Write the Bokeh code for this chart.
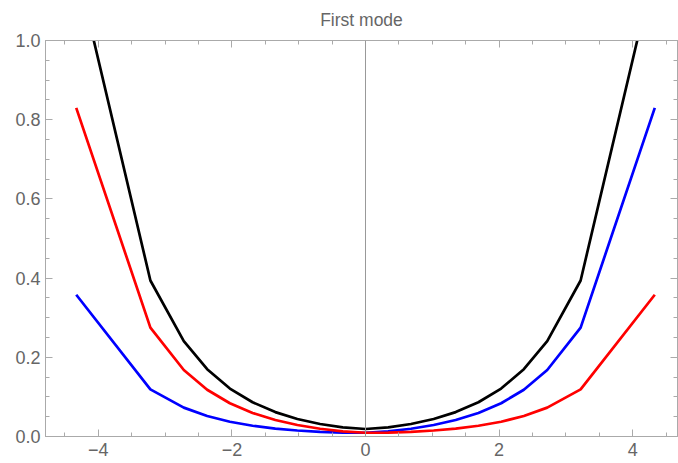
from bokeh.plotting import figure
from bokeh.models import LinearAxis, Range1d, Span, FixedTicker, CustomJSTickFormatter, PrintfTickFormatter
from bokeh.embed import file_html
from bokeh.resources import INLINE

# sample positions
x = [-4.33, -3.22, -2.72, -2.37, -2.03, -1.69, -1.35, -1.02, -0.68, -0.34, 0.0,
     0.34, 0.68, 1.02, 1.35, 1.69, 2.03, 2.37, 2.72, 3.22, 4.33]

red = [0.830, 0.275, 0.168, 0.118, 0.084, 0.0594, 0.0416, 0.0291, 0.0196, 0.0131, 0.0095,
       0.00995, 0.0119, 0.0152, 0.0200, 0.0271, 0.0373, 0.0518, 0.0729, 0.119, 0.358]

blue = [0.358, 0.119, 0.0729, 0.0518, 0.0373, 0.0271, 0.0200, 0.0152, 0.0119, 0.00995, 0.0095,
        0.0131, 0.0196, 0.0291, 0.0416, 0.0594, 0.084, 0.118, 0.168, 0.275, 0.830]

black = [1.188, 0.394, 0.241, 0.170, 0.121, 0.0865, 0.0616, 0.0443, 0.0315, 0.0231, 0.019,
         0.0231, 0.0315, 0.0443, 0.0616, 0.0865, 0.121, 0.170, 0.241, 0.394, 1.188]

x_major = [-4, -2, 0, 2, 4]
x_minor = [-4.5, -4.0, -3.5, -3.0, -2.5, -2.0, -1.5, -1.0, -0.5, 0.0,
           0.5, 1.0, 1.5, 2.0, 2.5, 3.0, 3.5, 4.0, 4.5]
y_major = [0.0, 0.2, 0.4, 0.6, 0.8, 1.0]
y_minor = [0.0, 0.05, 0.1, 0.15, 0.2, 0.25, 0.3, 0.35, 0.4, 0.45, 0.5,
           0.55, 0.6, 0.65, 0.7, 0.75, 0.8, 0.85, 0.9, 0.95, 1.0]

FONT = "Liberation Sans"
TXT = "#666666"
FRAME = "#aaaaaa"

p = figure(width=678, height=463, output_backend="svg", toolbar_location=None,
           x_range=Range1d(-4.79, 4.67), y_range=Range1d(0.0, 1.0),
           x_axis_type=None, y_axis_type=None,
           min_border_left=45, min_border_right=1, min_border_top=40, min_border_bottom=27)
p.title.text = "First mode"
p.title.align = "center"
p.title.vertical_align = "top"
p.title.offset = 4
p.title.standoff = 18
p.title.text_font = FONT
p.title.text_font_size = "17.5px"
p.title.text_font_style = "normal"
p.title.text_color = TXT
p.grid.visible = False
p.outline_line_color = FRAME
p.background_fill_color = "white"
p.border_fill_color = "white"

xt = FixedTicker(ticks=x_major, minor_ticks=x_minor)
yt = FixedTicker(ticks=y_major, minor_ticks=y_minor)
minus_fmt = CustomJSTickFormatter(code="return tick < 0 ? '\u2212' + (-tick) : '' + tick;")
blank_fmt = CustomJSTickFormatter(code="return '';")


def style(ax, labels=True):
    ax.axis_line_color = FRAME
    ax.major_tick_line_color = FRAME
    ax.minor_tick_line_color = FRAME
    ax.major_tick_in = 7
    ax.major_tick_out = 0
    ax.minor_tick_in = 4
    ax.minor_tick_out = 0
    ax.major_label_text_font = FONT
    ax.major_label_text_color = TXT
    if labels:
        ax.major_label_text_font_size = "18px"
    else:
        ax.major_label_text_font_size = "1px"
        ax.major_label_standoff = 0


bottom = LinearAxis(ticker=xt, formatter=minus_fmt)
style(bottom)
bottom.major_label_standoff = 6
p.add_layout(bottom, "below")

left = LinearAxis(ticker=yt, formatter=PrintfTickFormatter(format="%.1f"))
style(left)
left.major_label_standoff = 5
p.add_layout(left, "left")

top = LinearAxis(ticker=xt, formatter=blank_fmt)
style(top, labels=False)
p.add_layout(top, "above")

right = LinearAxis(ticker=yt, formatter=blank_fmt)
style(right, labels=False)
p.add_layout(right, "right")

p.add_layout(Span(location=0, dimension="height", line_color="#999999", line_width=1))

p.line(x, black, line_color="black", line_width=2.7)
p.line(x, blue, line_color="#0000ff", line_width=2.7)
p.line(x, red, line_color="#ff0000", line_width=2.7)

open("out.html", "w").write(file_html(p, INLINE))
